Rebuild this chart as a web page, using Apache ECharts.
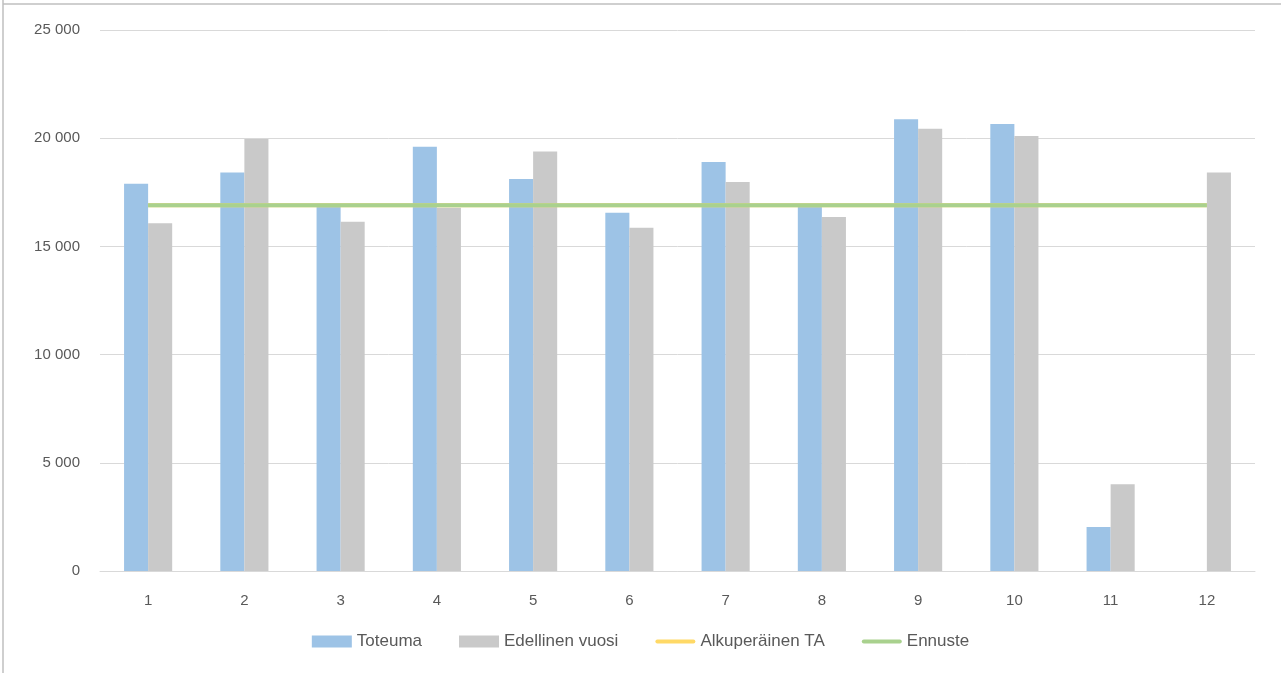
<!DOCTYPE html>
<html>
<head>
<meta charset="utf-8">
<script src="https://cdn.jsdelivr.net/npm/echarts@6/dist/echarts.min.js"></script>
<style>
html,body{margin:0;padding:0;background:#fff;}
#c{width:1281px;height:673px;}
</style>
</head>
<body>
<div id="c"></div>
<script>
const categories = ['1','2','3','4','5','6','7','8','9','10','11','12'];
const toteuma = [17900, 18420, 16830, 19610, 18110, 16560, 18900, 16850, 20870, 20660, 2030, null];
const edellinenVuosi = [16070, 19960, 16140, 16790, 19390, 15860, 17980, 16360, 20440, 20100, 4010, 18410];
const alkuperainenTA = [16900, 16900, 16900, 16900, 16900, 16900, 16900, 16900, 16900, 16900, 16900, 16900];
const ennuste = [16900, 16900, 16900, 16900, 16900, 16900, 16900, 16900, 16900, 16900, 16900, 16900];
const seriesNames = ['Toteuma', 'Edellinen vuosi', 'Alkuperäinen TA', 'Ennuste'];

const FONT = 'Liberation Sans';
const lineIcon = 'path://M2,0 L38,0 A2,2 0 0 1 38,4 L2,4 A2,2 0 0 1 2,0 Z';
const chart = echarts.init(document.getElementById('c'));
chart.setOption({
  animation: false,
  textStyle: {fontFamily: FONT},
  graphic: [
    {type: 'line', shape: {x1: 3, y1: 0, x2: 3, y2: 673}, style: {stroke: '#bfbfbf', lineWidth: 1.5}},
    {type: 'line', shape: {x1: 3, y1: 4, x2: 1281, y2: 4}, style: {stroke: '#bfbfbf', lineWidth: 1.5}}
  ],
  grid: {left: 100, right: 26, top: 30, bottom: 102},
  legend: {
    top: 628,
    left: 'center',
    itemWidth: 40,
    itemHeight: 12,
    itemGap: 37,
    symbolKeepAspect: true,
    textStyle: {color: '#595959', fontSize: 17, fontFamily: FONT},
    data: [
      {name: seriesNames[0], icon: 'rect'},
      {name: seriesNames[1], icon: 'rect'},
      {name: seriesNames[2], icon: lineIcon},
      {name: seriesNames[3], icon: lineIcon}
    ]
  },
  xAxis: {
    type: 'category',
    data: categories,
    axisLine: {lineStyle: {color: '#d9d9d9', width: 1}},
    axisTick: {show: false},
    axisLabel: {color: '#595959', fontSize: 15, margin: 22, fontFamily: FONT}
  },
  yAxis: {
    type: 'value',
    min: 0,
    max: 25000,
    interval: 5000,
    axisLine: {show: false},
    axisTick: {show: false},
    splitLine: {lineStyle: {color: '#d9d9d9', width: 1}},
    axisLabel: {
      color: '#595959', fontSize: 15, margin: 20, fontFamily: FONT,
      formatter: v => String(v).replace(/\B(?=(\d{3})+(?!\d))/g, ' ')
    }
  },
  series: [
    {name: seriesNames[0], type: 'bar', data: toteuma, barGap: '0%', barCategoryGap: '50%',
     itemStyle: {color: '#9dc3e6'}},
    {name: seriesNames[1], type: 'bar', data: edellinenVuosi, barGap: '0%', barCategoryGap: '50%',
     itemStyle: {color: '#c9c9c9'}},
    {name: seriesNames[2], type: 'line', data: alkuperainenTA, symbol: 'none', showSymbol: false,
     lineStyle: {color: '#ffd966', width: 4}, itemStyle: {color: '#ffd966'}},
    {name: seriesNames[3], type: 'line', data: ennuste, symbol: 'none', showSymbol: false,
     lineStyle: {color: '#a9d18e', width: 4}, itemStyle: {color: '#a9d18e'}}
  ]
});
</script>
</body>
</html>
